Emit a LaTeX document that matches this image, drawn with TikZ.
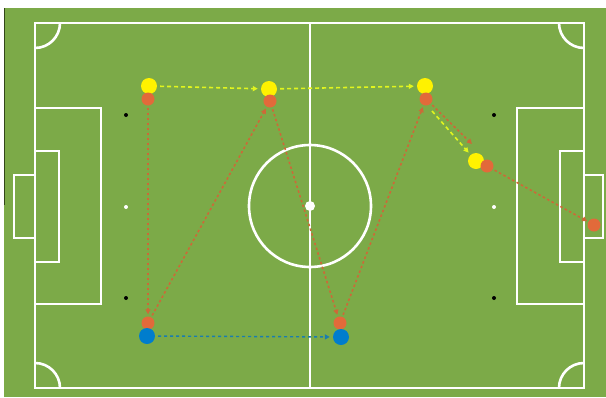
\documentclass[tikz,border=0pt]{standalone}
\usetikzlibrary{arrows.meta}
\definecolor{pitch}{RGB}{124,170,72}
\definecolor{darkedge}{RGB}{50,70,25}
\definecolor{pyellow}{RGB}{255,242,0}
\definecolor{porange}{RGB}{226,106,58}
\definecolor{pblue}{RGB}{0,125,205}
\definecolor{ayellow}{RGB}{225,245,30}
\definecolor{aorange}{RGB}{205,105,55}
\definecolor{ablue}{RGB}{25,125,175}
\tikzset{
  line/.style={white,line width=2.6pt},
  yel/.style={circle,fill=pyellow,minimum size=16pt,inner sep=0pt},
  ora/.style={circle,fill=porange,minimum size=13pt,inner sep=0pt},
  blu/.style={circle,fill=pblue,minimum size=16pt,inner sep=0pt},
  spotw/.style={circle,fill=white,minimum size=4pt,inner sep=0pt},
  spotb/.style={circle,fill=black,minimum size=4pt,inner sep=0pt},
  ya/.style={ayellow,line width=1.6pt,dash pattern=on 4pt off 3pt,-{Triangle[length=5pt,width=5pt]},shorten <=3pt,shorten >=3pt},
  oa/.style={aorange,line width=1.6pt,dash pattern=on 2.5pt off 2.5pt,-{Triangle[length=5pt,width=5pt]},shorten <=2pt,shorten >=2pt},
  ba/.style={ablue,line width=1.4pt,dash pattern=on 3pt off 3pt,-{Triangle[length=5pt,width=5pt]},shorten <=3pt,shorten >=3pt}
}
\begin{document}
\begin{tikzpicture}[x=1pt,y=-1pt]
\useasboundingbox (0,0) rectangle (606,397);
\fill[white] (0,0) rectangle (606,397);
\fill[pitch] (4,8) rectangle (606,397);
\draw[darkedge,line width=1.2pt] (4.6,8) -- (4.6,205);
% outer lines
\draw[line] (35,23) rectangle (584,388);
\draw[line] (310,23) -- (310,388);
\draw[line] (310,206) circle[radius=61];
% left boxes
\draw[line] (35,108) -- (101,108) -- (101,304) -- (35,304);
\draw[line] (35,151) -- (59,151) -- (59,262) -- (35,262);
\draw[line] (35,175) -- (14,175) -- (14,238) -- (35,238);
% right boxes
\draw[line] (584,108) -- (517,108) -- (517,304) -- (584,304);
\draw[line] (584,151) -- (560,151) -- (560,262) -- (584,262);
\draw[line] (584,175) -- (603,175) -- (603,238) -- (584,238);
% corner arcs
\draw[line] (60,23) arc[start angle=0,end angle=90,radius=25];
\draw[line] (35,363) arc[start angle=-90,end angle=0,radius=25];
\draw[line] (559,23) arc[start angle=180,end angle=90,radius=25];
\draw[line] (584,363) arc[start angle=270,end angle=180,radius=25];
% spots
\node[circle,fill=white,minimum size=10pt,inner sep=0pt] (cs) at (310,206) {};
\node[spotw] (pl) at (126,207) {};
\node[spotw] (pr) at (494,207) {};
\node[spotb] (bl1) at (126,115) {};
\node[spotb] (bl2) at (126,298) {};
\node[spotb] (br1) at (494,115) {};
\node[spotb] (br2) at (494,298) {};
% players
\node[yel] (y1) at (149,86) {};
\node[yel] (y2) at (269,89) {};
\node[yel] (y3) at (425,86) {};
\node[yel] (y4) at (476,161) {};
\node[ora] (o1) at (148,99) {};
\node[ora] (o2) at (270,101) {};
\node[ora] (o3) at (426,99) {};
\node[ora] (o4) at (487,166) {};
\node[ora] (o9) at (594,225) {};
\node[ora] (o5) at (148,323) {};
\node[ora] (o6) at (340,323) {};
\node[blu] (b1) at (147,336) {};
\node[blu] (b2) at (341,337) {};
% free ends
\coordinate (ys) at (432,111);
\coordinate (oe) at (472,144);
% arrows
\draw[ya] (y1) -- (y2);
\draw[ya] (y2) -- (y3);
\draw[ya,shorten <=0pt] (ys) -- (y4);
\draw[oa] (o1) -- (o5);
\draw[oa] (o5) -- (o2);
\draw[oa] (o2) -- (o6);
\draw[oa] (o6) -- (o3);
\draw[oa,shorten >=0pt] (o3) -- (oe);
\draw[oa,shorten >=1pt] (o4) -- (o9);
\draw[ba] (b1) -- (b2);
\end{tikzpicture}
\end{document}
